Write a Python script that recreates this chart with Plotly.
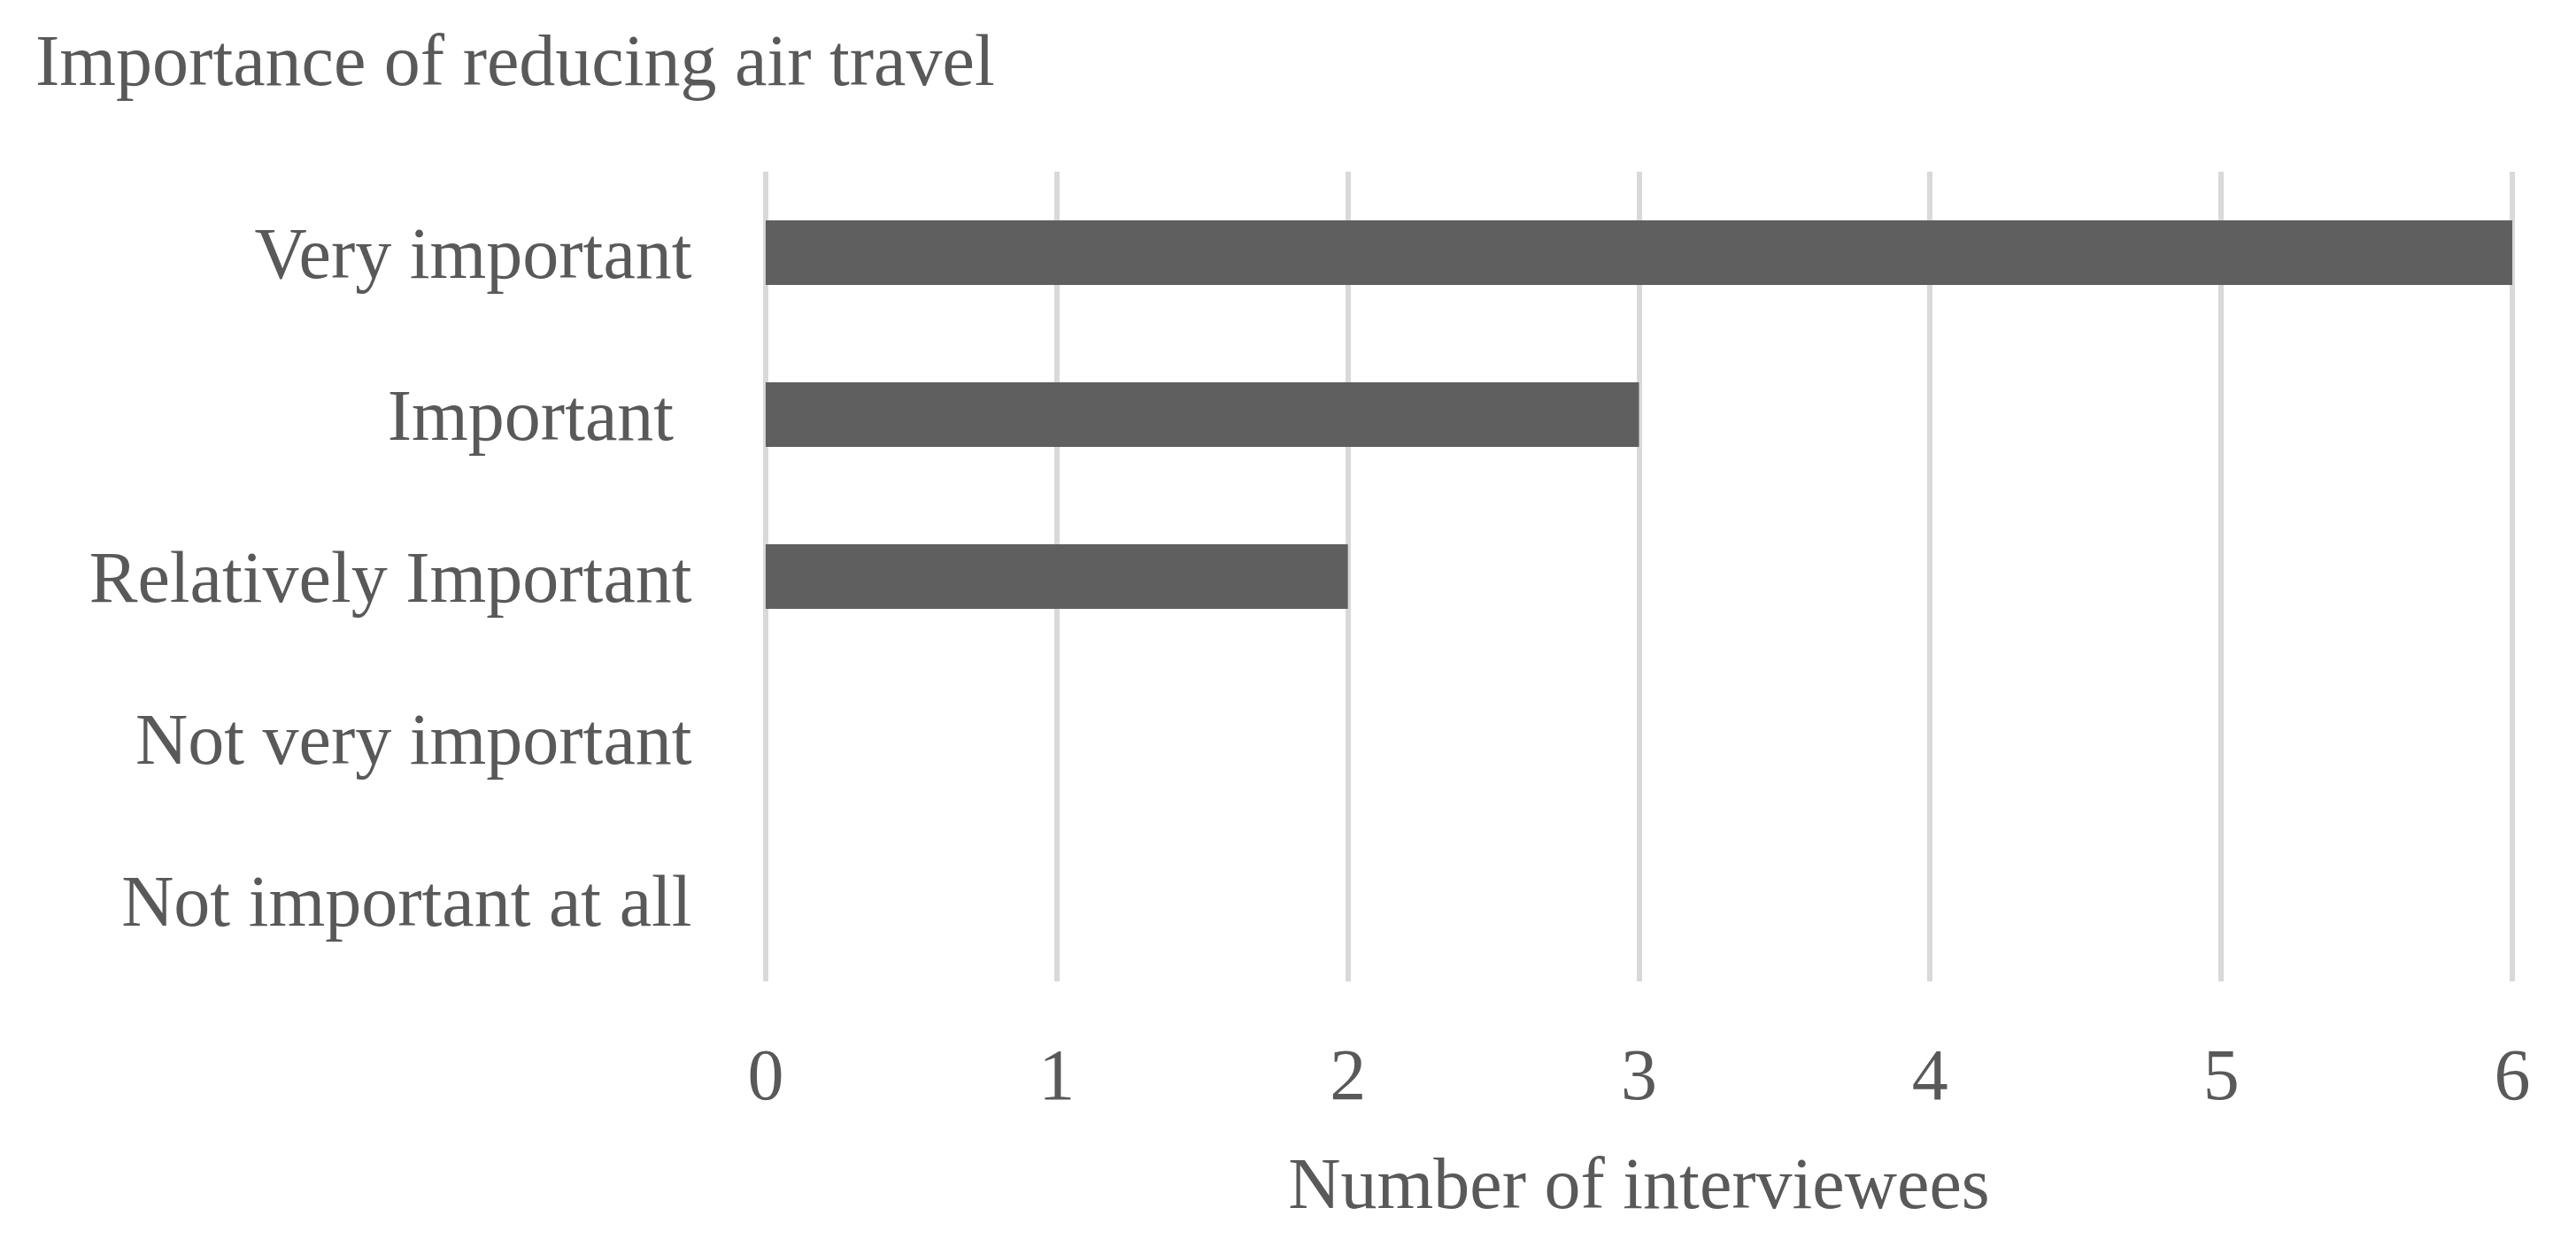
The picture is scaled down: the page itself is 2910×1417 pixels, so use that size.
import plotly.graph_objects as go

# survey answers, top to bottom as shown
categories = ["Very important", "Important\u00a0", "Relatively Important",
              "Not very important", "Not important at all"]
counts = [6, 3, 2, 0, 0]
x_ticks = [0, 1, 2, 3, 4, 5, 6]

text_col = "#595959"
font_name = "Liberation Serif"

fig = go.Figure(go.Bar(
    y=categories,
    x=counts,
    orientation="h",
    marker=dict(color="#5F5F5F", line=dict(width=0)),
))

fig.update_layout(
    width=2910, height=1417,
    plot_bgcolor="white", paper_bgcolor="white",
    margin=dict(l=853, r=76, t=186, b=316),
    bargap=0.6,
    showlegend=False,
    font=dict(family=font_name, size=82, color=text_col),
    title=dict(text="Importance of reducing air travel",
               x=32 / 2910, xanchor="left",
               y=1 - 59 / 1417, yanchor="middle",
               font=dict(family=font_name, size=82, color=text_col)),
)

# small padding on the range so the 0 and 6 grid lines are kept
fig.update_xaxes(
    range=[-0.012, 6.012], tickvals=x_ticks,
    showgrid=True, gridcolor="#D9D9D9", gridwidth=6,
    zeroline=False, showline=False,
    ticks="outside", ticklen=34, tickcolor="rgba(0,0,0,0)",
    tickfont=dict(family=font_name, size=82, color=text_col),
    title=dict(text="Number of interviewees", standoff=48,
               font=dict(family=font_name, size=82, color=text_col)),
)

fig.update_yaxes(
    categoryorder="array", categoryarray=categories[::-1],
    showgrid=False, zeroline=False, showline=False,
    ticks="outside", ticklen=62, tickcolor="rgba(0,0,0,0)",
    tickfont=dict(family=font_name, size=82, color=text_col),
)

fig.write_html("out.html")
